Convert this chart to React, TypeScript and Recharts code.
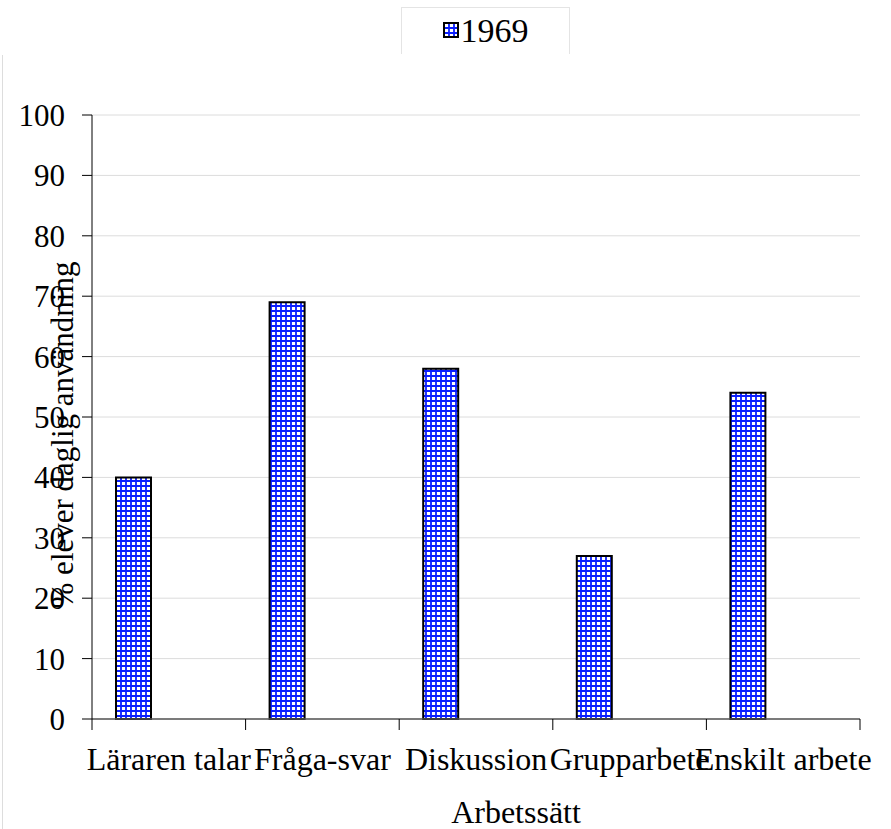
import React from 'react';
import { BarChart, Bar, XAxis, YAxis, CartesianGrid, Legend } from 'recharts';

const categories = ['Läraren talar', 'Fråga-svar', 'Diskussion', 'Grupparbete', 'Enskilt arbete'];
const values1969 = [40, 69, 58, 27, 54];
const yTicks = [0, 10, 20, 30, 40, 50, 60, 70, 80, 90, 100];
const seriesName = '1969';

const data = categories.map((name, i) => ({ name, v1969: values1969[i] }));

const FONT = '"Liberation Serif", "Times New Roman", serif';
const W = 891;
const H = 829;
const M = { top: 115, right: 31, bottom: 0, left: 0 };
const Y_W = 92;
const X_H = 110;
const PLOT_W = W - M.left - M.right - Y_W;

const XTick = (props: any) => {
  const { x, y, payload, index } = props;
  const band = PLOT_W / categories.length;
  const left = x - band / 2;
  return (
    <g>
      <line x1={left} x2={left} y1={y - 8} y2={y + 3} stroke="#000" />
      {index === categories.length - 1 && (
        <line x1={left + band} x2={left + band} y1={y - 8} y2={y + 3} stroke="#000" />
      )}
      <text x={x} y={y + 43} textAnchor="middle" fontFamily={FONT} fontSize={32} fill="#000">
        {payload.value}
      </text>
    </g>
  );
};

const LegendBox = () => (
  <div
    style={{
      width: 169,
      height: 47,
      boxSizing: 'border-box',
      borderTop: '1px solid #e4e4e4',
      borderLeft: '1px solid #e4e4e4',
      borderRight: '1px solid #e4e4e4',
      display: 'flex',
      alignItems: 'center',
      justifyContent: 'center',
      fontFamily: FONT,
      fontSize: 34,
      color: '#000',
    }}
  >
    <svg width={16} height={16} style={{ marginRight: 2, marginTop: -2 }}>
      <rect x={1} y={1} width={14} height={14} fill="url(#blueGrid)" stroke="#000" strokeWidth={2} />
    </svg>
    <span>{seriesName}</span>
  </div>
);

export default function App() {
  return (
    <div style={{ position: 'absolute', left: 0, top: 0, width: W, height: H, background: '#fff' }}>
      <div style={{ position: 'absolute', left: 2, top: 55, bottom: 0, borderLeft: '1px solid #dddddd' }} />
      <BarChart width={W} height={H} data={data} margin={M} barGap={0}>
        <defs>
          <pattern id="blueGrid" width={5} height={5} patternUnits="userSpaceOnUse">
            <rect width={5} height={5} fill="#fff" />
            <path d="M0 1 H5 M1 0 V5" stroke="#0a1eff" strokeWidth={1.8} />
          </pattern>
        </defs>
        <CartesianGrid vertical={false} stroke="#dcdcdc" />
        <XAxis
          dataKey="name"
          height={X_H}
          tickLine={false}
          axisLine={{ stroke: '#555', strokeWidth: 1.5 }}
          tick={<XTick />}
          interval={0}
          label={{ value: 'Arbetssätt', position: 'insideBottom', offset: 6, dx: 40, fontFamily: FONT, fontSize: 32, fill: '#000' }}
        />
        <YAxis
          width={Y_W}
          domain={[0, 100]}
          ticks={yTicks}
          interval={0}
          tickSize={10}
          tickMargin={17}
          axisLine={{ stroke: '#000' }}
          tickLine={{ stroke: '#000' }}
          tick={{ fontFamily: FONT, fontSize: 31, fill: '#000' }}
          label={{ value: '% elever daglig användning', angle: -90, position: 'center', dx: 16, dy: 18, fontFamily: FONT, fontSize: 31, fill: '#000' }}
        />
        <Legend
          layout="vertical"
          align="center"
          verticalAlign="middle"
          wrapperStyle={{ top: 7, left: 401, width: 169, height: 47 }}
          content={<LegendBox />}
        />
        <Bar dataKey="v1969" name={seriesName} barSize={35} fill="url(#blueGrid)" stroke="#000" strokeWidth={2} isAnimationActive={false} />
        <Bar dataKey="empty2" barSize={35} fill="none" legendType="none" isAnimationActive={false} />
        <Bar dataKey="empty3" barSize={35} fill="none" legendType="none" isAnimationActive={false} />
      </BarChart>
    </div>
  );
}
